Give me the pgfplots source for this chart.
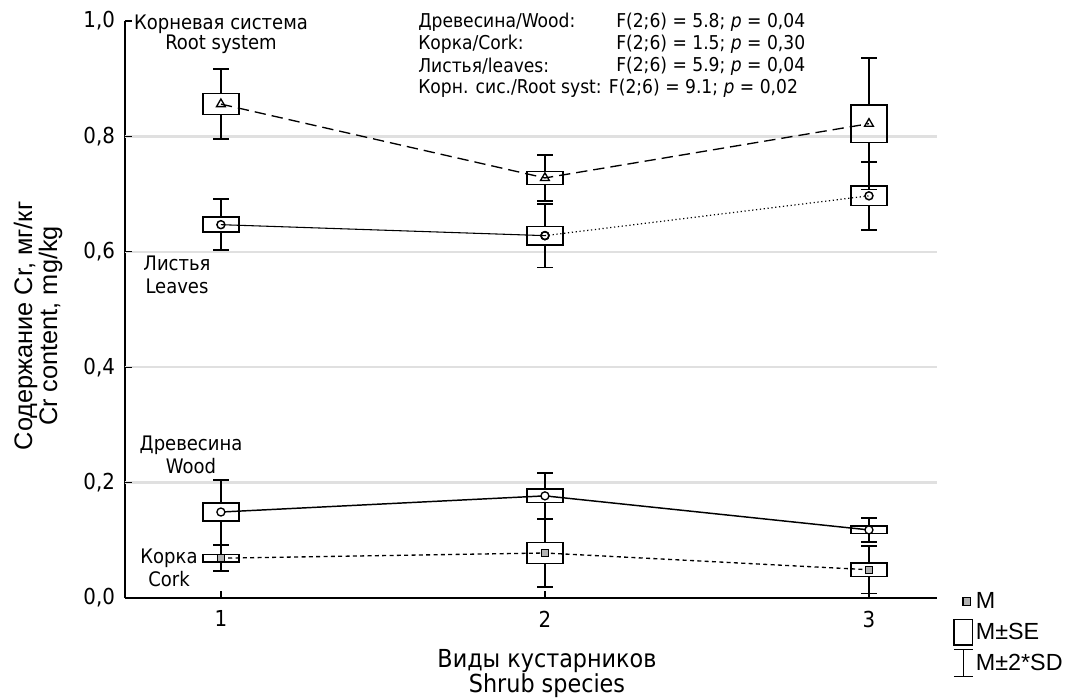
\documentclass[border=0pt]{standalone}
\usepackage{fontspec}
\setmainfont{DejaVu Sans Condensed}
\newfontfamily\arialf{Liberation Sans}
\usepackage{pgfplots}
\pgfplotsset{compat=1.18}
\usepgfplotslibrary{statistics}
\pgfplotsset{
  bx/.style={black, solid, line width=1.2pt, mark=none, forget plot,
    boxplot/draw direction=y,
    boxplot/box extend=0.11, boxplot/whisker extend=0.047,
    boxplot/draw/median/.code={}},
}
\begin{document}
\begin{tikzpicture}
\begin{axis}[
  scale only axis, width=609pt, height=432.75pt,
  xmin=0.704, xmax=3.21, ymin=0, ymax=1,
  axis lines*=left,
  axis line style={line width=1.1pt},
  xtick={1,2,3}, xticklabels={1,2,3},
  ytick={0,1},
  extra y ticks={0.2,0.4,0.6,0.8},
  extra y tick style={grid=major},
  grid style={black!12, line width=1.8pt},
  tick align=inside,
  major tick length=5pt,
  tick style={black, line width=0.9pt},
  tick label style={font=\fontsize{16.5}{19}\selectfont},
  yticklabel style={xshift=-4pt, /pgf/number format/.cd, use comma, fixed, fixed zerofill, precision=1, assume math mode=true},
  xticklabel style={yshift=-6pt},
  clip=false,
  legend style={draw=none, fill=none, at={(rel axis cs:1.0197,0.0208)}, anchor=north west,
    inner sep=0pt, font=\arialf\fontsize{17.5}{19}\selectfont, row sep=0pt},
  legend cell align=left,
]
% ---- Root system
\addplot[black, line width=1pt, dash pattern=on 8.5pt off 4.5pt, mark=triangle, mark size=3.8pt,
  mark options={solid, line width=1pt}, forget plot] coordinates {(1,0.856) (2,0.728) (3,0.822)};
\addplot[bx, boxplot prepared={draw position=1, lower whisker=0.795, lower quartile=0.838, median=0.856, upper quartile=0.874, upper whisker=0.917}] coordinates {};
\addplot[bx, boxplot prepared={draw position=2, lower whisker=0.688, lower quartile=0.7165, median=0.728, upper quartile=0.7395, upper whisker=0.768}] coordinates {};
\addplot[bx, boxplot prepared={draw position=3, lower whisker=0.708, lower quartile=0.7895, median=0.822, upper quartile=0.8545, upper whisker=0.936}] coordinates {};

% ---- Leaves
\addplot[black, line width=0.8pt, mark=o, mark size=3pt, mark options={solid, line width=1.1pt}, forget plot]
  coordinates {(1,0.647) (2,0.628)};
\addplot[black, line width=0.9pt, dotted, mark=o, mark size=3pt, mark options={solid, line width=1.1pt}, forget plot]
  coordinates {(2,0.628) (3,0.697)};
\addplot[bx, boxplot prepared={draw position=1, lower whisker=0.603, lower quartile=0.634, median=0.647, upper quartile=0.660, upper whisker=0.691}] coordinates {};
\addplot[bx, boxplot prepared={draw position=2, lower whisker=0.573, lower quartile=0.612, median=0.628, upper quartile=0.644, upper whisker=0.683}] coordinates {};
\addplot[bx, boxplot prepared={draw position=3, lower whisker=0.638, lower quartile=0.680, median=0.697, upper quartile=0.714, upper whisker=0.756}] coordinates {};

% ---- Wood
\addplot[black, line width=1.1pt, mark=*, mark size=3pt, mark options={solid, fill=white, line width=1pt}, forget plot]
  coordinates {(1,0.149) (2,0.177) (3,0.118)};
\addplot[bx, boxplot prepared={draw position=1, lower whisker=0.093, lower quartile=0.1335, median=0.149, upper quartile=0.1645, upper whisker=0.205}] coordinates {};
\addplot[bx, boxplot prepared={draw position=2, lower whisker=0.137, lower quartile=0.1655, median=0.177, upper quartile=0.1885, upper whisker=0.217}] coordinates {};
\addplot[bx, boxplot prepared={draw position=3, lower whisker=0.097, lower quartile=0.1115, median=0.118, upper quartile=0.1245, upper whisker=0.139}] coordinates {};

% ---- Cork
\addplot[black, line width=1pt, dash pattern=on 3pt off 2.5pt, mark=square*, mark size=2.6pt,
  mark options={solid, fill=gray!60, line width=1pt}, forget plot]
  coordinates {(1,0.069) (2,0.078) (3,0.049)};
\addplot[bx, boxplot prepared={draw position=1, lower whisker=0.047, lower quartile=0.0625, median=0.069, upper quartile=0.0755, upper whisker=0.091}] coordinates {};
\addplot[bx, boxplot prepared={draw position=2, lower whisker=0.019, lower quartile=0.060, median=0.078, upper quartile=0.096, upper whisker=0.137}] coordinates {};
\addplot[bx, boxplot prepared={draw position=3, lower whisker=0.008, lower quartile=0.037, median=0.049, upper quartile=0.061, upper whisker=0.090}] coordinates {};

% ---- legend
\addlegendimage{legend image code/.code={\path[draw=none,fill=none] (0pt,-11.5pt) rectangle (14pt,11.5pt);
  \node[draw=black, line width=0.8pt, fill=gray!60, inner sep=0pt, minimum size=5.5pt] at (6.4pt,0) {};}}
\addlegendentry{M}
\addlegendimage{legend image code/.code={\path[draw=none,fill=none] (0pt,-11.5pt) rectangle (14pt,11.5pt);
  \draw[black, line width=1pt] (0pt,-9.5pt) rectangle (14pt,9.5pt);}}
\addlegendentry{M±SE}
\addlegendimage{legend image code/.code={\path[draw=none,fill=none] (0pt,-11.5pt) rectangle (14pt,11.5pt);
  \draw[black, line width=1pt] (0pt,-10pt) -- (14pt,-10pt) (7pt,-10pt) -- (7pt,10pt) (0pt,10pt) -- (14pt,10pt);}}
\addlegendentry{M±2*SD}
\end{axis}

\begin{scope}[x=0.75pt, y=-0.75pt, shift={(-93.75pt,448.5pt)}]
  \node[align=center, font=\fontsize{15}{15}\selectfont] at (221,34) {Корневая система\\Root system};
  \node[align=center, font=\fontsize{15}{17}\selectfont] at (177,275) {Листья\\Leaves};
  \node[align=center, font=\fontsize{15}{17}\selectfont] at (191,455) {Древесина\\Wood};
  \node[align=center, font=\fontsize{15}{17}\selectfont] at (169,568) {Корка\\Cork};
  \begin{scope}[every node/.style={anchor=west, inner sep=0pt, font=\fontsize{14.3}{16}\selectfont}]
    \node at (418,22) {Древесина/Wood:};
    \node at (616,22) {F(2;6) = 5.8; \textit{p} = 0,04};
    \node at (418,44) {Корка/Cork:};
    \node at (616,44) {F(2;6) = 1.5; \textit{p} = 0,30};
    \node at (418,66) {Листья/leaves:};
    \node at (616,66) {F(2;6) = 5.9; \textit{p} = 0,04};
    \node at (418,88) {Корн. сис./Root syst: F(2;6) = 9.1; \textit{p} = 0,02};
  \end{scope}
  \node[align=center, font=\fontsize{18.6}{18.75}\selectfont] at (547,674) {Виды кустарников\\Shrub species};
  \node[rotate=90, align=center, font=\arialf\fontsize{19}{18.75}\selectfont] at (38,326) {Содержание Cr, мг/кг\\Cr content, mg/kg};
\end{scope}
\pgfresetboundingbox
\useasboundingbox (-93.75pt,-76.5pt) rectangle (707.25pt,448.5pt);
\end{tikzpicture}
\end{document}
